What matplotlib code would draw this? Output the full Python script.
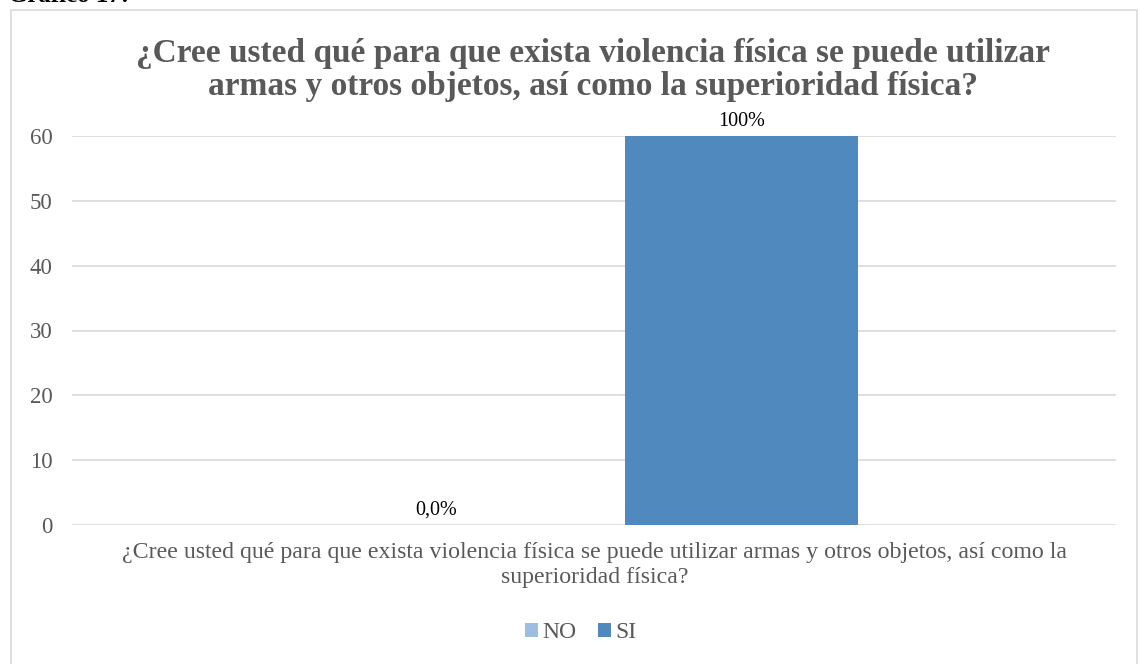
import matplotlib.pyplot as plt
from matplotlib.patches import Rectangle

# Data
series = ['NO', 'SI']
values = [0, 60]
labels = ['0,0%', '100%']
colors = ['#9DBEE2', '#4F89BD']
category = ('¿Cree usted qué para que exista violencia física se puede utilizar armas y otros objetos, así como la\n'
            'superioridad física?')
title = ('¿Cree usted qué para que exista violencia física se puede utilizar\n'
         'armas y otros objetos, así como la superioridad física?')

plt.rcParams['font.family'] = ['Liberation Serif', 'DejaVu Serif']

fig = plt.figure(figsize=(11.4, 6.64), dpi=100)
W, H = 1140, 664

# Chart border
fig.patches.append(Rectangle((11 / W, -0.01), (1137 - 11) / W, 1.01 - 10 / H,
                             transform=fig.transFigure, fill=False,
                             edgecolor='#D9D9D9', linewidth=1.2))

# Partially visible caption above chart
fig.text(8 / W, 1 - 2 / H, 'Gráfico 17:', fontsize=18, fontweight='bold',
         color='black', ha='left', va='baseline')

ax = fig.add_axes([72 / W, 1 - 525 / H, (1116 - 72) / W, (525 - 136) / H])

width = 0.2235
offsets = [-0.146, 0.146]
for name, v, lab, c, off in zip(series, values, labels, colors, offsets):
    ax.bar(off - 0.005, v, width=width, color=c, label=name, zorder=3)
    ax.text(off - 0.005, v + 0.8, lab, ha='center', va='bottom',
            fontsize=14.5, color='black')

ax.set_xlim(-0.5, 0.5)
ax.set_ylim(0, 60)
ax.set_yticks(range(0, 61, 10))
ax.set_xticks([])
ax.tick_params(axis='y', length=0, labelsize=16.5, labelcolor='#595959', pad=14)
ax.grid(axis='y', color='#D9D9D9', linewidth=1.2, zorder=0)
for s in ax.spines.values():
    s.set_visible(False)

fig.text(594.5 / W, 1 - 542 / H, category, ha='center', va='top',
         fontsize=17.2, color='#595959', linespacing=1.25)

fig.text(593 / W, 1 - 70 / H, title, ha='center', va='center',
         fontsize=24, fontweight='bold', color='#595959', linespacing=1.12)

fig.legend(loc='center', bbox_to_anchor=(581 / W, 1 - 633 / H), ncol=2,
           frameon=False, fontsize=17, labelcolor='#595959',
           handlelength=0.55, handleheight=0.55, handletextpad=0.2,
           columnspacing=0.9)

fig.savefig('out.png', dpi=100)
